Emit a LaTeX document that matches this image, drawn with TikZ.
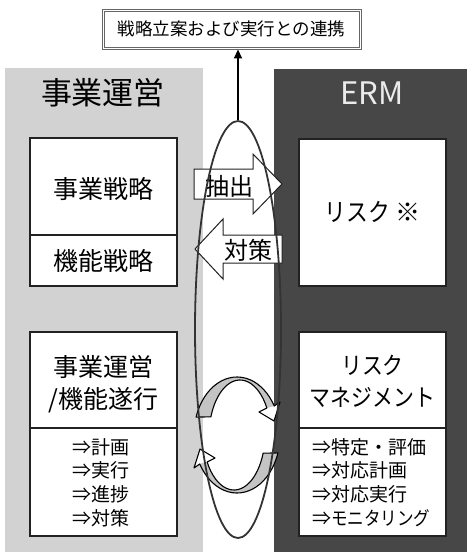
\documentclass[tikz,border=0pt]{standalone}
\usepackage{fontspec}
\setmainfont{Noto Sans CJK JP}
\newfontfamily\kana[FakeStretch=0.87]{Noto Sans CJK JP}
\usetikzlibrary{shapes.geometric,arrows.meta}
\definecolor{lpanel}{HTML}{D2D2D2}
\definecolor{rpanel}{HTML}{474747}
\definecolor{band}{HTML}{C4C4C4}
\definecolor{ink}{HTML}{222222}
\definecolor{loop}{HTML}{333333}
\definecolor{frame}{HTML}{666666}
\newcommand\fsz[2]{\fontsize{#1}{#2}\selectfont}
\tikzset{
  box/.style={draw=ink, line width=1.3pt, fill=white},
  txt/.style={inner sep=0pt, text=black},
  blockarrow/.style={draw=ink, line width=1pt, fill=white, line join=miter},
  circarrow/.pic={
    \fill[white] (37.24,-29.0) -- (43,-33) -- (37,-14) -- (22,-23) -- (29.85,-27.0) -- cycle;
    \fill[band] (-40.90,-17.92) arc[start angle=-162, end angle=-30, x radius=43, y radius=58]
      -- (29.85,-27.0) arc[start angle=-30, end angle=-160, x radius=31, y radius=56] -- cycle;
    \draw[loop, line width=1.1pt, line join=round] (-40.90,-17.92) arc[start angle=-162, end angle=-30, x radius=43, y radius=58]
      -- (43,-33) -- (37,-14) -- (22,-23) -- (29.85,-27.0)
      arc[start angle=-30, end angle=-160, x radius=31, y radius=56] -- cycle;
  }
}
\begin{document}
\begin{tikzpicture}[x=1pt,y=-1pt]
\useasboundingbox (0,0) rectangle (467,552);
\fill[white] (0,0) rectangle (467,552);
% panels
\fill[lpanel] (5,68) rectangle (203,552);
\fill[rpanel] (274,69) rectangle (467,552);
% headers
\node[txt, font=\fsz{31}{36}] (hl) at (103,93) {事業運営};
\node[txt, font=\fsz{31}{36}, text=white!92!black] (hr) at (372,93) {ERM};
% left boxes
\draw[box] (30,138) rectangle (177,286);
\draw[ink, line width=1.3pt] (30,235) -- (177,235);
\node[txt, font=\fsz{25}{30}] (ls) at (103.5,189) {事業戦略};
\node[txt, font=\fsz{25}{30}] (lf) at (103.5,261) {機能戦略};
\draw[box] (30,332) rectangle (177,536);
\draw[ink, line width=1.3pt] (30,428) -- (177,428);
\node[txt, font=\fsz{25}{32}, align=center] (lo) at (103.5,384) {事業運営\\/機能遂行};
\node[txt, font=\fsz{19}{23.7}, align=left, anchor=west] (ll) at (72,482.5) {⇒計画\\⇒実行\\⇒進捗\\⇒対策};
% right boxes
\draw[box] (299,139) rectangle (446,286);
\node[txt, font=\fsz{25}{30}] (rr) at (372.5,212) {{\kana リスク} ※};
\draw[box] (299,332) rectangle (446,536);
\draw[ink, line width=1.3pt] (299,428) -- (446,428);
\node[txt, font=\fsz{24}{32}, align=center] (rm) at (372.5,381) {{\kana リスク}\\{\kana マネジメント}};
\node[txt, font=\fsz{19}{23.7}, align=left, anchor=west] (rl) at (312,482.5) {⇒特定・評価\\⇒対応計画\\⇒対応実行\\⇒{\kana モニタリング}};
% block arrows
\draw[blockarrow] (194,169) -- (253,169) -- (253,154) -- (282,184) -- (253,214) -- (253,199) -- (194,199) -- cycle;
\node[txt, font=\fsz{24}{28}] (ext) at (229,186) {抽出};
\draw[blockarrow] (195,249) -- (223,219) -- (223,235) -- (282,235) -- (282,263) -- (223,263) -- (223,279) -- cycle;
\node[txt, font=\fsz{24}{28}] (cnt) at (248,250) {対策};
% circular arrows
\pic at (237,435) {circarrow};
\pic[rotate=180] at (237,435) {circarrow};
% big loop
\node[ellipse, draw=loop, line width=1.8pt, minimum width=86pt, minimum height=417pt, inner sep=0pt] (cyc) at (238,329.5) {};
% top box
\node[draw=frame, line width=0.9pt, fill=white,
      minimum width=259pt, minimum height=40pt, inner sep=0pt, font=\fsz{17.5}{20}] (top) at (231.5,29) {戦略立案および実行との連携};
\draw[frame, line width=0.9pt] ([xshift=2.4pt,yshift=2.4pt]top.south west) rectangle ([xshift=-2.4pt,yshift=-2.4pt]top.north east);
\draw[loop, line width=1.8pt, -{Triangle[length=9pt,width=8pt]}] (cyc.north) -- (cyc.north |- top.south);
\end{tikzpicture}
\end{document}
